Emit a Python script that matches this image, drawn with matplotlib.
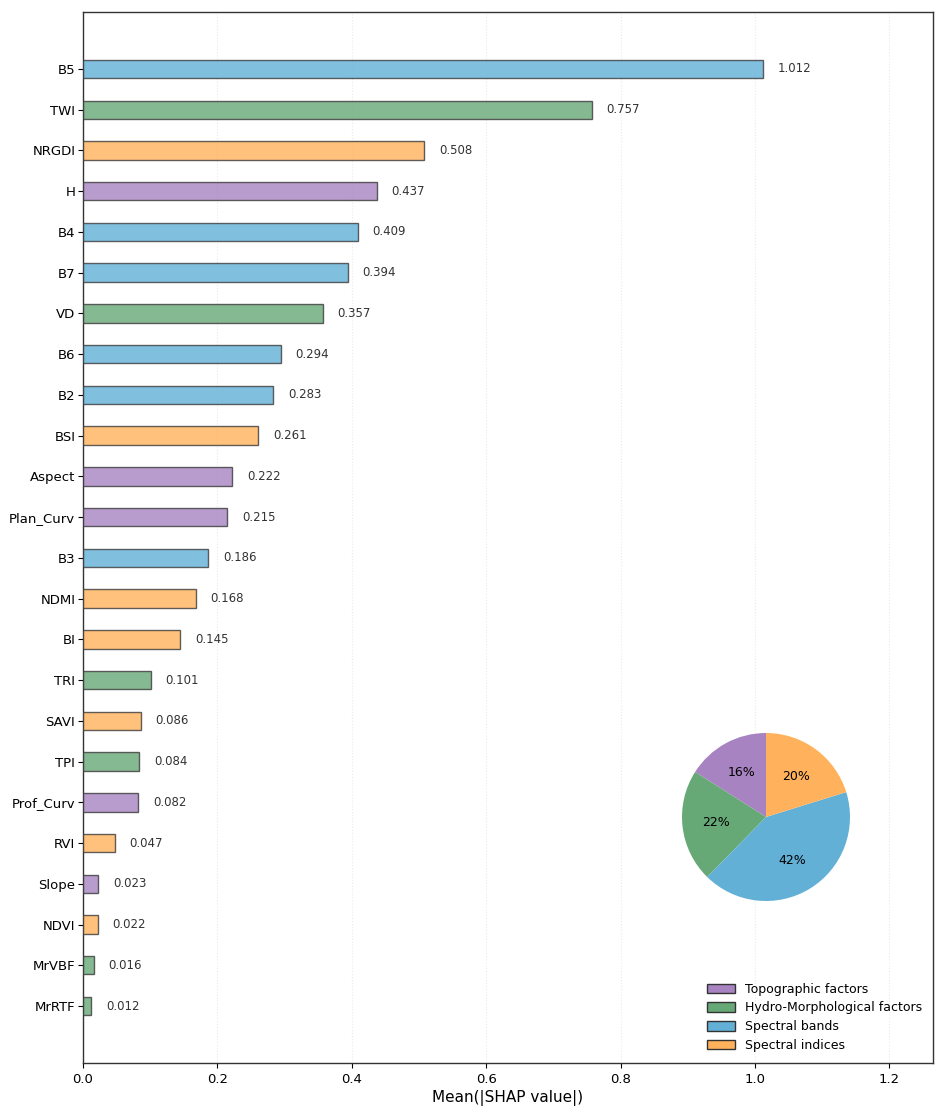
import matplotlib
matplotlib.use("Agg")
import matplotlib.pyplot as plt
from matplotlib.patches import Patch
import numpy as np

features = ["B5", "TWI", "NRGDI", "H", "B4", "B7", "VD", "B6", "B2", "BSI", "Aspect",
            "Plan_Curv", "B3", "NDMI", "BI", "TRI", "SAVI", "TPI", "Prof_Curv", "RVI",
            "Slope", "NDVI", "MrVBF", "MrRTF"]
values = [1.012, 0.757, 0.508, 0.437, 0.409, 0.394, 0.357, 0.294, 0.283, 0.261, 0.222,
          0.215, 0.186, 0.168, 0.145, 0.101, 0.086, 0.084, 0.082, 0.047,
          0.023, 0.022, 0.016, 0.012]
groups = ["Spectral bands", "Hydro-Morphological factors", "Spectral indices", "Topographic factors",
          "Spectral bands", "Spectral bands", "Hydro-Morphological factors", "Spectral bands",
          "Spectral bands", "Spectral indices", "Topographic factors", "Topographic factors",
          "Spectral bands", "Spectral indices", "Spectral indices", "Hydro-Morphological factors",
          "Spectral indices", "Hydro-Morphological factors", "Topographic factors", "Spectral indices",
          "Topographic factors", "Spectral indices", "Hydro-Morphological factors",
          "Hydro-Morphological factors"]
group_names = ["Topographic factors", "Hydro-Morphological factors", "Spectral bands", "Spectral indices"]
group_colors = {"Topographic factors": "#a783c1",
                "Hydro-Morphological factors": "#67a877",
                "Spectral bands": "#62b0d6",
                "Spectral indices": "#ffb25b"}

fig = plt.figure(figsize=(9.46, 11.13), dpi=100)
ax = fig.add_axes([83/946, 1 - 1063/1113, (933-83)/946, (1063-12)/1113])

n = len(features)
ypos = np.arange(n)[::-1]
cols = [group_colors[g] for g in groups]
ax.barh(ypos, values, height=0.45, color=cols, alpha=0.8, edgecolor="#3a3a3a", linewidth=1.0, zorder=3)
for y, v in zip(ypos, values):
    ax.text(v + 0.022, y, f"{v:.3f}", va="center", ha="left", fontsize=8.5, color="#333333")

ax.set_yticks(ypos)
ax.set_yticklabels(features, fontsize=9.5)
ax.tick_params(axis="y", pad=2)
ax.set_xlim(0, max(values) * 1.25)
ax.tick_params(axis="x", labelsize=9.5)
ax.set_xlabel("Mean(|SHAP value|)", fontsize=11, labelpad=3)
ax.grid(axis="x", linestyle=":", color="#dddddd", alpha=0.6, zorder=0)
for s in ax.spines.values():
    s.set_linewidth(1.0)
    s.set_color("#333333")

handles = [Patch(facecolor=group_colors[g], edgecolor="#333333", label=g) for g in group_names]
ax.legend(handles=handles, loc="lower right", frameon=False, fontsize=9,
          bbox_to_anchor=(1.0, 0.0), handlelength=2.2, handleheight=0.8, labelspacing=0.45)

sums = [sum(v for v, g in zip(values, groups) if g == name) for name in group_names]
R = 105
pax = fig.add_axes([(766-R)/946, 1 - (817+R)/1113, 2*R/946, 2*R/1113])
pax.pie(sums, colors=[group_colors[g] for g in group_names], startangle=90,
        autopct="%1.0f%%", textprops={"fontsize": 9})
pax.set_aspect("equal")

fig.savefig("out.png", dpi=100)
